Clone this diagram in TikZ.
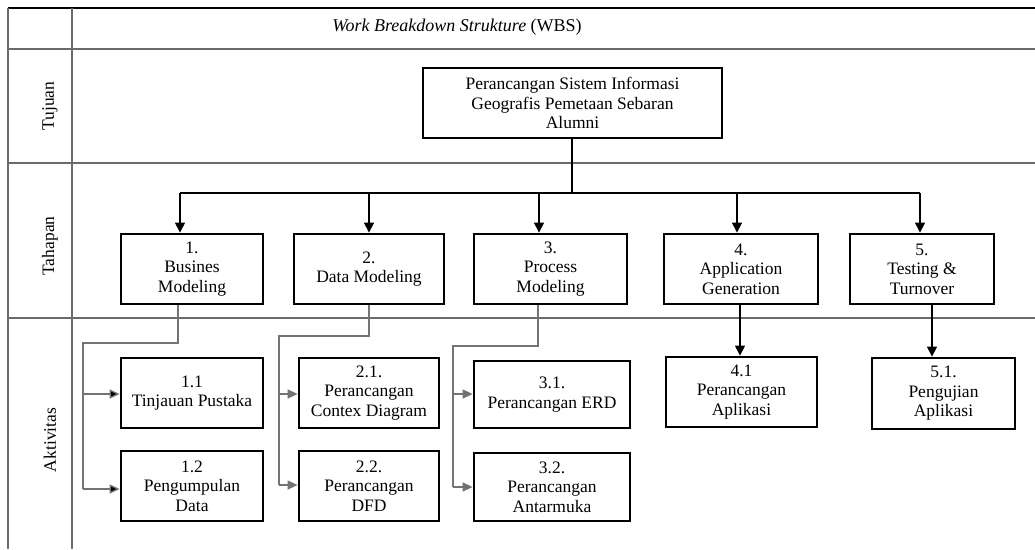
\documentclass[tikz,border=0pt]{standalone}
\usepackage{fontspec}
\setmainfont{Liberation Serif}
\usetikzlibrary{arrows.meta}
\definecolor{gridgray}{gray}{0.42}
\definecolor{conngray}{gray}{0.45}
\begin{document}
\begin{tikzpicture}[x=1pt,y=-1pt,
  wbox/.style={draw=black, line width=2.8pt, align=center, inner sep=0pt,
    font=\fontsize{17.5}{19.5}\selectfont},
  grid/.style={draw=gridgray, line width=1.4pt},
  lbl/.style={rotate=90, font=\fontsize{17.5}{19.5}\selectfont},
  arr/.style={draw=black, line width=1.1pt, -{Triangle[length=10pt,width=10pt]}},
  garr/.style={draw=conngray, line width=1.3pt, -{Triangle[length=10pt,width=9pt,fill=black]}},
  garr2/.style={draw=conngray, line width=1.3pt, -{Triangle[length=10pt,width=9pt,fill=conngray]}},
  gline/.style={draw=conngray, line width=1.3pt},
  bline/.style={draw=black, line width=1.1pt}]
\useasboundingbox (0,0) rectangle (1035,549);
\fill[white] (0,0) rectangle (1035,549);
% table
\draw[draw=black, line width=1.4pt] (8,8) -- (1035,8);
\draw[grid] (8,49) -- (1035,49);
\draw[grid] (8,163) -- (1035,163);
\draw[grid] (8,318) -- (1035,318);
\draw[grid] (8,8) -- (8,549);
\draw[grid] (72,8) -- (72,549);
% header and row labels
\node[font=\fontsize{18}{20}\selectfont] (title) at (457,27) {\textit{Work Breakdown Strukture} (WBS)};
\node[lbl] (ltuj) at (50,106) {Tujuan};
\node[lbl] (ltah) at (50,246) {Tahapan};
\node[lbl] (lakt) at (50,440) {Aktivitas};
% boxes
\node[wbox, minimum width=299pt, minimum height=70pt] (top) at (572.5,103) {Perancangan Sistem Informasi\\Geografis Pemetaan Sebaran\\Alumni};
\node[wbox, minimum width=142pt, minimum height=70pt] (b1) at (192,269) {1.\\Busines\\Modeling};
\node[wbox, minimum width=150pt, minimum height=70pt] (b2) at (369,269) {2.\\Data Modeling};
\node[wbox, minimum width=153pt, minimum height=70pt] (b3) at (550.5,269) {3.\\Process\\Modeling};
\node[wbox, minimum width=154pt, minimum height=70pt] (b4) at (741,269) {4.\\Application\\Generation};
\node[wbox, minimum width=144pt, minimum height=70pt] (b5) at (922,269) {5.\\Testing \&\\Turnover};
\node[wbox, minimum width=142pt, minimum height=70pt] (a11) at (192,393) {1.1\\Tinjauan Pustaka};
\node[wbox, minimum width=142pt, minimum height=70pt] (a12) at (192,486) {1.2\\Pengumpulan\\Data};
\node[wbox, minimum width=140pt, minimum height=70pt] (a21) at (369,393) {2.1.\\Perancangan\\Contex Diagram};
\node[wbox, minimum width=140pt, minimum height=70pt] (a22) at (369,486) {2.2.\\Perancangan\\DFD};
\node[wbox, minimum width=156pt, minimum height=67pt] (a31) at (552,394.5) {3.1.\\Perancangan ERD};
\node[wbox, minimum width=156pt, minimum height=68pt] (a32) at (552,487) {3.2.\\Perancangan\\Antarmuka};
\node[wbox, minimum width=151pt, minimum height=70pt] (a41) at (741.5,392) {4.1\\Perancangan\\Aplikasi};
\node[wbox, minimum width=143pt, minimum height=71pt] (a51) at (943.5,393.5) {5.1.\\Pengujian\\Aplikasi};
% top to stages
\coordinate (hub) at (572,193);
\coordinate (j1) at (180,193);
\coordinate (j2) at (369,193);
\coordinate (j3) at (539,193);
\coordinate (j4) at (737,193);
\coordinate (j5) at (920,193);
\draw[bline] (top.south -| hub) -- (hub);
\draw[bline] (j1) -- (j5);
\draw[arr] (j1) -- (j1 |- b1.north);
\draw[arr] (j2) -- (j2 |- b2.north);
\draw[arr] (j3) -- (j3 |- b3.north);
\draw[arr] (j4) -- (j4 |- b4.north);
\draw[arr] (j5) -- (j5 |- b5.north);
% stage 1 activities
\coordinate (s1) at (178,343);
\coordinate (t1) at (83,343);
\coordinate (u1) at (83,489);
\draw[gline] (b1.south -| s1) -- (s1) -- (t1) -- (u1);
\draw[garr] (83,394) coordinate (v11) -- (v11 -| a11.west);
\draw[garr] (u1) -- (u1 -| a12.west);
% stage 2 activities
\coordinate (s2) at (369,336);
\coordinate (t2) at (279,336);
\coordinate (u2) at (279,485);
\draw[gline] (b2.south -| s2) -- (s2) -- (t2) -- (u2);
\draw[garr2] (279,394) coordinate (v21) -- (v21 -| a21.west);
\draw[garr2] (u2) -- (u2 -| a22.west);
% stage 3 activities
\coordinate (s3) at (538,346);
\coordinate (t3) at (453,346);
\coordinate (u3) at (453,487);
\draw[gline] (b3.south -| s3) -- (s3) -- (t3) -- (u3);
\draw[garr2] (453,394) coordinate (v31) -- (v31 -| a31.west);
\draw[garr2] (u3) -- (u3 -| a32.west);
% stages 4 and 5
\coordinate (s4) at (740,304);
\coordinate (s5) at (932,304);
\draw[arr] (b4.south -| s4) -- (a41.north -| s4);
\draw[arr] (b5.south -| s5) -- (a51.north -| s5);
\end{tikzpicture}
\end{document}
